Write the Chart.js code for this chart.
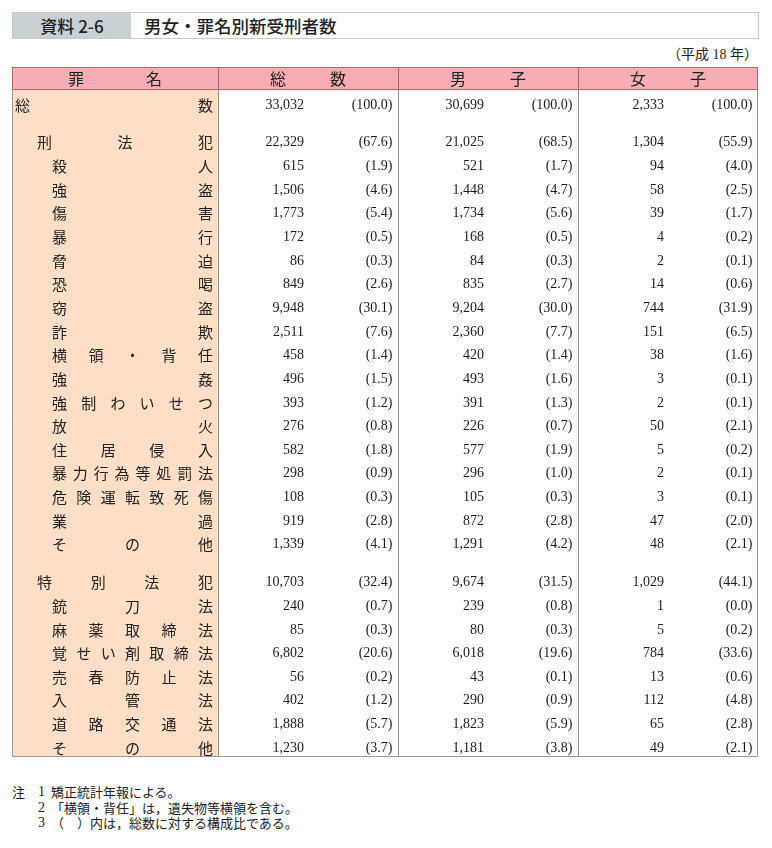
<!DOCTYPE html>
<html lang="ja">
<head>
<meta charset="utf-8">
<title>男女・罪名別新受刑者数</title>
<script src="https://cdn.jsdelivr.net/npm/chart.js@4.4.0/dist/chart.umd.min.js"></script>
<style>
  body { margin: 0; width: 772px; height: 848px; background: #fff; position: relative; overflow: hidden;
         font-family: "Noto Sans CJK JP", sans-serif; color: #222; }
  #titleBar { position: absolute; left: 12px; top: 12px; width: 745px; height: 25px; border: 1px solid #c3c9cc; }
  #titleNo { position: absolute; left: 0; top: 0; width: 118px; height: 25px; background: #c8d0d3;
             font-size: 17px; line-height: 25px; text-align: center; font-weight: 500; }
  #titleText { position: absolute; left: 131px; top: 0; height: 25px; font-size: 17.5px; line-height: 25px; font-weight: 500; }
  #year { position: absolute; right: 14px; top: 46px; font-family: "Liberation Serif", "Noto Sans CJK JP", serif;
          font-size: 14px; line-height: 18px; }
  #wrap { position: absolute; left: 12px; top: 67px; width: 746px; height: 690px; }
  #notes { position: absolute; left: 12px; top: 784px; font-size: 13px; line-height: 15.5px; }
  #notes div { position: relative; padding-left: 39px; }
  #notes span.h { position: absolute; left: 0; }
  #notes span.n { position: absolute; left: 26px; font-family: "Liberation Serif", serif; font-size: 14px; }
</style>
</head>
<body>
<div id="titleBar">
  <div id="titleNo">資料 2-6</div>
  <div id="titleText">男女・罪名別新受刑者数</div>
</div>
<div id="year">（平成 18 年）</div>
<div id="wrap"><canvas id="table"></canvas></div>
<div id="notes">
  <div><span class="h">注</span><span class="n">1</span>矯正統計年報による。</div>
  <div><span class="n">2</span>「横領・背任」は，遺失物等横領を含む。</div>
  <div><span class="n">3</span>（　）内は，総数に対する構成比である。</div>
</div>
<script>
const headers = ['罪名', '総数', '男子', '女子'];

const rowNames = ['総数', '刑法犯', '殺人', '強盗', '傷害', '暴行', '脅迫', '恐喝', '窃盗', '詐欺',
  '横領・背任', '強姦', '強制わいせつ', '放火', '住居侵入', '暴力行為等処罰法', '危険運転致死傷', '業過', 'その他',
  '特別法犯', '銃刀法', '麻薬取締法', '覚せい剤取締法', '売春防止法', '入管法', '道路交通法', 'その他'];
const rowLevels = [0, 1, 2, 2, 2, 2, 2, 2, 2, 2, 2, 2, 2, 2, 2, 2, 2, 2, 2, 1, 2, 2, 2, 2, 2, 2, 2];
const rowGroups = [0, 1, 1, 1, 1, 1, 1, 1, 1, 1, 1, 1, 1, 1, 1, 1, 1, 1, 1, 2, 2, 2, 2, 2, 2, 2, 2];

const totalCount = [33032, 22329, 615, 1506, 1773, 172, 86, 849, 9948, 2511, 458, 496, 393, 276, 582, 298, 108, 919, 1339,
  10703, 240, 85, 6802, 56, 402, 1888, 1230];
const totalPct = [100.0, 67.6, 1.9, 4.6, 5.4, 0.5, 0.3, 2.6, 30.1, 7.6, 1.4, 1.5, 1.2, 0.8, 1.8, 0.9, 0.3, 2.8, 4.1,
  32.4, 0.7, 0.3, 20.6, 0.2, 1.2, 5.7, 3.7];
const maleCount = [30699, 21025, 521, 1448, 1734, 168, 84, 835, 9204, 2360, 420, 493, 391, 226, 577, 296, 105, 872, 1291,
  9674, 239, 80, 6018, 43, 290, 1823, 1181];
const malePct = [100.0, 68.5, 1.7, 4.7, 5.6, 0.5, 0.3, 2.7, 30.0, 7.7, 1.4, 1.6, 1.3, 0.7, 1.9, 1.0, 0.3, 2.8, 4.2,
  31.5, 0.8, 0.3, 19.6, 0.1, 0.9, 5.9, 3.8];
const femaleCount = [2333, 1304, 94, 58, 39, 4, 2, 14, 744, 151, 38, 3, 2, 50, 5, 2, 3, 47, 48,
  1029, 1, 5, 784, 13, 112, 65, 49];
const femalePct = [100.0, 55.9, 4.0, 2.5, 1.7, 0.2, 0.1, 0.6, 31.9, 6.5, 1.6, 0.1, 0.1, 2.1, 0.2, 0.1, 0.1, 2.0, 2.1,
  44.1, 0.0, 0.2, 33.6, 0.6, 4.8, 2.8, 2.1];

// row position on the y scale (1 unit = 1 row), with a small gap before each group
function rowPos(i) {
  return 0.63 + i + 0.6 * rowGroups[i];
}

function cells(col, counts, pcts) {
  return counts.map((c, i) => ({ x: col + 0.5, y: rowPos(i), count: c, pct: pcts[i] }));
}

const NUM_FONT = '14px "Liberation Serif", serif';
const JP_FONT = '15px "Noto Sans CJK JP", sans-serif';

// spread the characters of s between x0 and x1 (like 均等割付)
function spread(ctx, s, x0, x1, yy, cw) {
  const chars = Array.from(s);
  if (chars.length === 1) { ctx.fillText(chars[0], x0, yy); return; }
  const step = (x1 - x0 - cw) / (chars.length - 1);
  chars.forEach((ch, k) => ctx.fillText(ch, x0 + k * step, yy));
}

const tablePlugin = {
  id: 'tableCells',
  beforeDatasetsDraw(chart) {
    const { ctx, chartArea: a, scales: { x, y } } = chart;
    const W = chart.width;
    const top = y.getPixelForValue(y.min);
    const headBottom = Math.round(y.getPixelForValue(0));
    const bottom = y.getPixelForValue(y.max);
    ctx.save();
    // backgrounds
    ctx.fillStyle = '#f6adb3';
    ctx.fillRect(0, top, W, headBottom - top);
    ctx.fillStyle = '#fcdfc6';
    ctx.fillRect(0, headBottom, a.left, bottom - headBottom);

    // column lines
    const colX = [a.left, x.getPixelForValue(1), x.getPixelForValue(2)].map(v => Math.round(v) + 0.5);
    ctx.lineWidth = 1;
    ctx.strokeStyle = '#9a9090';
    colX.forEach(cx => { ctx.beginPath(); ctx.moveTo(cx, headBottom); ctx.lineTo(cx, bottom); ctx.stroke(); });
    ctx.strokeStyle = '#a86a6a';
    colX.forEach(cx => { ctx.beginPath(); ctx.moveTo(cx, top); ctx.lineTo(cx, headBottom); ctx.stroke(); });
    ctx.beginPath(); ctx.moveTo(0, headBottom + 0.5); ctx.lineTo(W, headBottom + 0.5); ctx.stroke();
    ctx.beginPath(); ctx.moveTo(0, top + 0.5); ctx.lineTo(W, top + 0.5); ctx.stroke();
    ctx.strokeStyle = '#9a9a9a';
    ctx.beginPath();
    ctx.moveTo(0.5, headBottom); ctx.lineTo(0.5, bottom - 0.5);
    ctx.lineTo(W - 0.5, bottom - 0.5); ctx.lineTo(W - 0.5, headBottom);
    ctx.stroke();
    ctx.strokeStyle = '#a86a6a';
    ctx.beginPath(); ctx.moveTo(0.5, top); ctx.lineTo(0.5, headBottom); ctx.stroke();
    ctx.beginPath(); ctx.moveTo(W - 0.5, top); ctx.lineTo(W - 0.5, headBottom); ctx.stroke();

    // header labels
    ctx.fillStyle = '#222';
    ctx.font = '16px "Noto Sans CJK JP", sans-serif';
    ctx.textAlign = 'center';
    ctx.textBaseline = 'middle';
    const hy = (top + headBottom) / 2 + 1;
    const centers = [a.left / 2, x.getPixelForValue(0.5), x.getPixelForValue(1.5), x.getPixelForValue(2.5)];
    headers.forEach((h, k) => {
      const gap = k === 0 ? 78 : 60;
      const chars = Array.from(h);
      ctx.fillText(chars[0], centers[k] - gap / 2, hy);
      ctx.fillText(chars[1], centers[k] + gap / 2, hy);
    });

    // row names
    ctx.font = JP_FONT;
    ctx.textAlign = 'left';
    const starts = [3, 25, 40];
    rowNames.forEach((name, i) => {
      const yy = y.getPixelForValue(rowPos(i)) + 1;
      spread(ctx, name, starts[rowLevels[i]], a.left - 5, yy, 15);
    });
    ctx.restore();
  },
  afterDatasetsDraw(chart) {
    const { ctx, scales: { x } } = chart;
    ctx.save();
    ctx.font = NUM_FONT;
    ctx.fillStyle = '#1a1a1a';
    ctx.textBaseline = 'middle';
    ctx.textAlign = 'right';
    chart.data.datasets.forEach((ds, di) => {
      const meta = chart.getDatasetMeta(di);
      const cellRight = x.getPixelForValue(di + 1);
      meta.data.forEach((el, i) => {
        const d = ds.data[i];
        ctx.fillText(d.count.toLocaleString('en-US'), el.x - 4, el.y + 1);
        ctx.fillText('(' + d.pct.toFixed(1) + ')', cellRight - 5.5, el.y + 1);
      });
    });
    ctx.restore();
  }
};

new Chart(document.getElementById('table'), {
  type: 'scatter',
  data: {
    datasets: [
      { label: headers[1], data: cells(0, totalCount, totalPct) },
      { label: headers[2], data: cells(1, maleCount, malePct) },
      { label: headers[3], data: cells(2, femaleCount, femalePct) }
    ]
  },
  options: {
    responsive: true,
    maintainAspectRatio: false,
    animation: false,
    events: [],
    layout: { padding: { left: 206, top: 0, right: 0, bottom: 0 } },
    elements: { point: { radius: 0, hoverRadius: 0 } },
    plugins: { legend: { display: false }, tooltip: { enabled: false } },
    scales: {
      x: { type: 'linear', min: 0, max: 3, display: false },
      y: { type: 'linear', reverse: true, min: -0.93, max: 28.25, display: false }
    }
  },
  plugins: [tablePlugin]
});
</script>
</body>
</html>
